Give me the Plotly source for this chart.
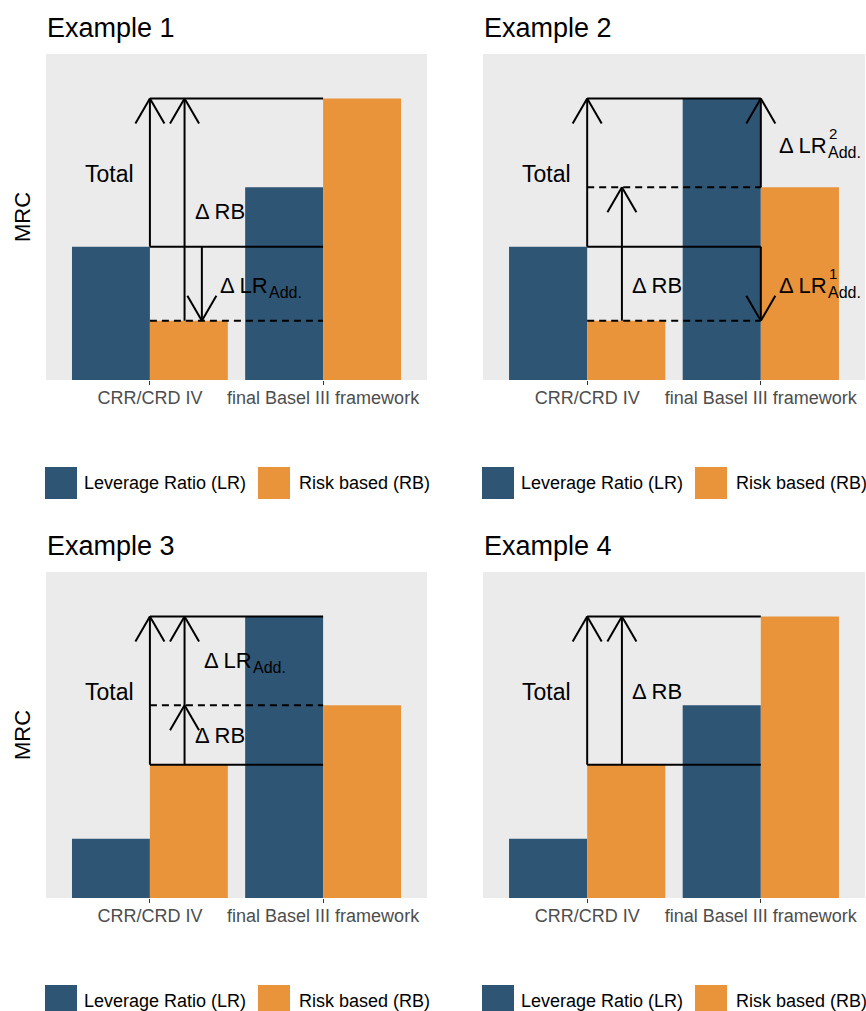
import plotly.graph_objects as go

# ---------------- data ----------------
categories = ["CRR/CRD IV", "final Basel III framework"]
series_names = ["Leverage Ratio (LR)", "Risk based (RB)"]
titles = ["Example 1", "Example 2", "Example 3", "Example 4"]
cat_pos = [1, 2]

ex1_lr = [9, 13]
ex1_rb = [4, 19]
ex2_lr = [9, 19]
ex2_rb = [4, 13]
ex3_lr = [4, 19]
ex3_rb = [9, 13]
ex4_lr = [4, 13]
ex4_rb = [9, 19]

# ---------------- style / layout ----------------
W, H = 866, 1011
FONT = "Liberation Sans, Arial, sans-serif"
C_LR = "#2F5574"
C_RB = "#E9943B"
PANEL_BG = "#EBEBEB"
Y_MAX = 22
X_RANGE = [0.4, 2.6]
# panel boxes in pixels: left, top, right, bottom
boxes = [(46, 54, 427, 380), (483, 54, 865, 380),
         (46, 572, 427, 898), (483, 572, 865, 898)]


def px_x(p):
    return p / W


def px_y(p):
    return 1 - p / H


fig = go.Figure()
annotations = []
shapes = []

data = [(ex1_lr, ex1_rb), (ex2_lr, ex2_rb), (ex3_lr, ex3_rb), (ex4_lr, ex4_rb)]

for i, (lr, rb) in enumerate(data):
    n = i + 1
    xa = "x" if n == 1 else f"x{n}"
    ya = "y" if n == 1 else f"y{n}"
    l, t, r, b = boxes[i]
    fig.add_trace(go.Bar(x=cat_pos, y=lr, width=0.45, offset=-0.45, marker=dict(color=C_LR, line=dict(width=0)),
                         name=series_names[0], showlegend=False, xaxis=xa, yaxis=ya, hoverinfo="skip"))
    fig.add_trace(go.Bar(x=cat_pos, y=rb, width=0.45, offset=0.0, marker=dict(color=C_RB, line=dict(width=0)),
                         name=series_names[1], showlegend=False, xaxis=xa, yaxis=ya, hoverinfo="skip"))
    xkey = "xaxis" if n == 1 else f"xaxis{n}"
    ykey = "yaxis" if n == 1 else f"yaxis{n}"
    fig.update_layout(**{
        xkey: dict(domain=[px_x(l), px_x(r)], range=X_RANGE, anchor=ya, tickvals=cat_pos, ticktext=categories,
                   ticks="outside", ticklen=4, tickwidth=1.1, tickcolor="#333333", showgrid=False, zeroline=False,
                   showline=False, tickfont=dict(family=FONT, size=18, color="#4D4D4D"), fixedrange=True,
                   ticklabelstandoff=-3),
        ykey: dict(domain=[px_y(b), px_y(t)], range=[0, Y_MAX], anchor=xa, showticklabels=False, ticks="",
                   showgrid=False, zeroline=False, showline=False, fixedrange=True),
    })
    # title
    annotations.append(dict(text=titles[i], xref="paper", yref="paper", x=px_x(l - 1), y=px_y(t - 26),
                            xanchor="left", yanchor="middle", showarrow=False,
                            font=dict(family=FONT, size=27, color="black")))
    # y axis title on left column
    if l < 100:
        annotations.append(dict(text="MRC", xref="paper", yref="paper", x=px_x(22), y=px_y((t + b) / 2),
                                xanchor="center", yanchor="middle", textangle=-90, showarrow=False,
                                font=dict(family=FONT, size=22, color="black")))
    # legend (drawn keys)
    ly = b + 103
    for k, (col, nm, dx_key, dx_txt) in enumerate([(C_LR, series_names[0], 0, 37), (C_RB, series_names[1], 213, 252)]):
        shapes.append(dict(type="rect", xref="paper", yref="paper", x0=px_x(l - 1 + dx_key), x1=px_x(l - 1 + dx_key + 32),
                           y0=px_y(ly + 16), y1=px_y(ly - 16), fillcolor=col, line=dict(width=0), layer="above"))
        annotations.append(dict(text=nm, xref="paper", yref="paper", x=px_x(l - 1 + dx_txt), y=px_y(ly),
                                xanchor="left", yanchor="middle", showarrow=False,
                                font=dict(family=FONT, size=18, color="black")))

# ---------------- annotation lines and arrows ----------------
HEAD_W = 14.5   # px
HEAD_L = 25.0   # px


def add_lines(n, segs, dash=None):
    xa = "x" if n == 1 else f"x{n}"
    ya = "y" if n == 1 else f"y{n}"
    xs, ys = [], []
    for (x0, y0, x1, y1) in segs:
        xs += [x0, x1, None]
        ys += [y0, y1, None]
    fig.add_trace(go.Scatter(x=xs, y=ys, mode="lines", xaxis=xa, yaxis=ya, showlegend=False, hoverinfo="skip",
                             line=dict(color="black", width=2, dash=dash)))


def add_arrows(n, arrows):
    l, t, r, b = boxes[n - 1]
    pxx = (r - l) / (X_RANGE[1] - X_RANGE[0])
    pxy = (b - t) / Y_MAX
    hw = HEAD_W / pxx
    hl = HEAD_L / pxy
    segs = []
    for (x, y0, y1) in arrows:
        s = 1 if y1 > y0 else -1
        segs.append((x, y0, x, y1))
        segs.append((x - hw, y1 - s * hl, x, y1))
        segs.append((x, y1, x + hw, y1 - s * hl))
    add_lines(n, segs)


def hline(y):
    return (1, y, 2, y)


# Example 1
add_lines(1, [hline(ex1_rb[1]), hline(ex1_lr[0])])
add_lines(1, [hline(ex1_rb[0])], dash="7px,5px")
add_arrows(1, [(1, ex1_lr[0], ex1_rb[1]), (1.2, ex1_rb[0], ex1_rb[1]), (1.3, ex1_lr[0], ex1_rb[0])])
# Example 2
add_lines(2, [hline(ex2_lr[1]), hline(ex2_lr[0])])
add_lines(2, [hline(ex2_rb[1]), hline(ex2_rb[0])], dash="7px,5px")
add_arrows(2, [(1, ex2_lr[0], ex2_lr[1]), (1.2, ex2_rb[0], ex2_rb[1]),
               (2, ex2_rb[1], ex2_lr[1]), (2, ex2_lr[0], ex2_rb[0])])
# Example 3
add_lines(3, [hline(ex3_lr[1]), hline(ex3_rb[0])])
add_lines(3, [hline(ex3_rb[1])], dash="7px,5px")
add_arrows(3, [(1, ex3_rb[0], ex3_lr[1]), (1.2, ex3_rb[0], ex3_rb[1]), (1.2, ex3_rb[1], ex3_lr[1])])
# Example 4
add_lines(4, [hline(ex4_rb[1]), hline(ex4_rb[0])])
add_arrows(4, [(1, ex4_rb[0], ex4_rb[1]), (1.2, ex4_rb[0], ex4_rb[1])])

# ---------------- in-panel labels ----------------


def label(n, text, x, y, anchor="center", size=22, xshift=0, yshift=0):
    xa = "x" if n == 1 else f"x{n}"
    ya = "y" if n == 1 else f"y{n}"
    annotations.append(dict(text=text, xref=xa, yref=ya, x=x, y=y, xanchor=anchor, yanchor="middle",
                            showarrow=False, xshift=xshift, yshift=yshift,
                            font=dict(family=FONT, size=size, color="black")))


def delta_lr(n, x, y, sup=None):
    label(n, "\u0394 LR", x, y, anchor="left")
    label(n, "Add.", x, y, anchor="left", size=16, xshift=49, yshift=-7)
    if sup:
        label(n, sup, x, y, anchor="left", size=15, xshift=50, yshift=12)


label(1, "Total", 0.764, 13.9, size=23)
label(1, "\u0394 RB", 1.405, 11.36)
delta_lr(1, 1.393, 6.41)

label(2, "Total", 0.763, 13.9, size=23)
label(2, "\u0394 RB", 1.402, 6.41)
delta_lr(2, 2.092, 15.85, sup="2")
delta_lr(2, 2.092, 6.41, sup="1")

label(3, "Total", 0.764, 13.92, size=23)
delta_lr(3, 1.30, 16.06)
label(3, "\u0394 RB", 1.405, 10.95)

label(4, "Total", 0.763, 13.92, size=23)
label(4, "\u0394 RB", 1.402, 13.92)

fig.update_layout(width=W, height=H, margin=dict(l=0, r=0, t=0, b=0), barmode="overlay",
                  paper_bgcolor="white", plot_bgcolor=PANEL_BG, showlegend=False,
                  annotations=annotations, shapes=shapes, font=dict(family=FONT))

fig.write_html("out.html", config={"displayModeBar": False},
               post_script="document.body.style.margin='0px';document.body.style.overflow='hidden';")
